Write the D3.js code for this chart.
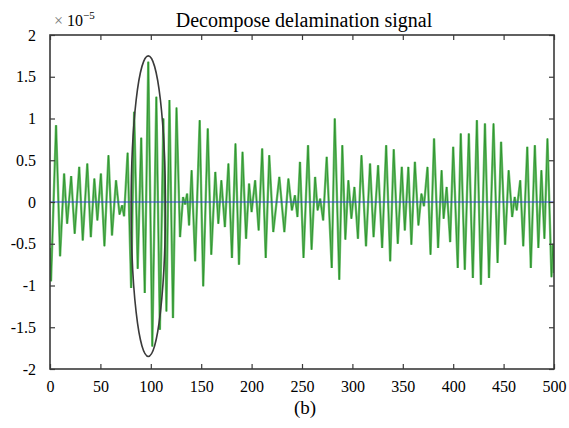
<!DOCTYPE html>
<html>
<head>
<meta charset="utf-8">
<script src="https://cdn.jsdelivr.net/npm/d3@7"></script>
<style>
  html, body { margin: 0; padding: 0; background: #fff; }
  svg { display: block; }
  text { font-family: "Liberation Serif", "Times New Roman", serif; fill: #000; }
</style>
</head>
<body>
<svg id="chart" width="569" height="428"></svg>
<script>
// Decomposed delamination signal: turning points (sample index, amplitude ×1e-5)
const turnAt = [
  0, 1, 6, 10, 14, 17, 21, 24.5, 29, 32.5, 37, 40.5, 44, 47, 50.5, 54, 58, 61.5, 65.5, 69,
  71.5, 73.5, 77, 80.5, 83.5, 87, 90.5, 94, 97.5, 101.5, 105.5, 109, 112.5, 115.5, 118.5, 122, 125.5, 129, 132, 134,
  136, 138, 140.5, 144, 148.5, 152, 156.5, 160, 164, 167, 170, 173.5, 177, 180.5, 184, 187.5, 191, 194.5, 197.5, 200,
  203.5, 207, 210.5, 214, 217.5, 221.5, 227.5, 232.5, 236.5, 240, 243, 245.5, 248, 251.5, 256, 259.5, 263, 265.5, 268, 271,
  274.5, 279.5, 282.5, 287, 290, 293, 296, 299, 302, 305.5, 309, 313.5, 317.5, 321, 325.5, 329.5, 333.5, 337.5, 341, 345,
  349, 352, 355.5, 358.5, 362, 365.5, 368.5, 371, 374.5, 377.5, 381, 385, 388.5, 390.5, 393.5, 397, 400, 404.5, 407.5, 411.5,
  415.5, 419.5, 423.5, 427.5, 431.5, 435.5, 440, 444, 447.5, 451.5, 455, 458.5, 461, 463, 466.5, 469.5, 473.5, 477, 481, 484.5,
  487.5, 490.5, 493.5, 497.5, 499, 500
];
const turnVal = [
  -0.55, -0.95, 0.92, -0.65, 0.34, -0.26, 0.31, -0.38, 0.42, -0.46, 0.46, -0.42, 0.28, -0.22, 0.34, -0.53, 0.56, -0.40, 0.26, -0.15,
  -0.04, -0.17, 0.59, -1.03, 1.08, -0.80, 0.77, -1.09, 1.68, -1.73, 1.26, -1.53, 1.00, -1.31, 1.22, -1.39, 1.13, -0.42, 0.06, -0.03,
  0.10, -0.28, 0.38, -0.71, 0.98, -1.01, 0.88, -0.63, 0.36, -0.26, 0.26, -0.30, 0.46, -0.67, 0.70, -0.75, 0.60, -0.44, 0.22, -0.12,
  0.26, -0.34, 0.64, -0.67, 0.56, -0.36, 0.30, -0.36, 0.28, -0.10, 0.08, -0.18, 0.48, -0.67, 0.68, -0.57, 0.30, -0.10, 0.04, -0.22,
  0.54, -0.79, 1.00, -0.93, 0.68, -0.45, 0.26, -0.20, 0.18, -0.44, 0.56, -0.53, 0.46, -0.42, 0.44, -0.55, 0.68, -0.71, 0.63, -0.50,
  0.42, -0.34, 0.42, -0.51, 0.48, -0.28, 0.10, -0.05, 0.42, -0.63, 0.76, -0.55, 0.38, -0.20, 0.18, -0.48, 0.66, -0.79, 0.82, -0.81,
  0.82, -0.91, 0.98, -0.99, 0.94, -0.91, 0.94, -0.73, 0.72, -0.51, 0.38, -0.18, 0.06, -0.10, 0.26, -0.53, 0.66, -0.79, 0.68, -0.55,
  0.38, -0.44, 0.76, -0.90, -0.50, -0.85
];

const xTicks = [0, 50, 100, 150, 200, 250, 300, 350, 400, 450, 500];
const yTicks = [-2, -1.5, -1, -0.5, 0, 0.5, 1, 1.5, 2];
const xDomain = [0, 500];
const yDomain = [-2, 2];

// Highlighted wave packet: centre (sample, amplitude) and half-axes
const packetCenter = [97.5, -0.05];
const packetRadius = [17, 1.8];

const titleText = "Decompose delamination signal";
const captionText = "(b)";

const svg = d3.select("#chart");
const m = { left: 50, right: 15, top: 35, bottom: 59 };
const W = 569, H = 428;

const x = d3.scaleLinear().domain(xDomain).range([m.left, W - m.right]);
const y = d3.scaleLinear().domain(yDomain).range([H - m.bottom, m.top]);

svg.append("defs").append("clipPath").attr("id", "plotClip")
  .append("rect")
  .attr("x", x(0)).attr("y", y(2))
  .attr("width", x(500) - x(0)).attr("height", y(-2) - y(2));

const plot = svg.append("g").attr("clip-path", "url(#plotClip)");

const pts = turnAt.map((t, i) => [t, turnVal[i]]);
const line = d3.line().x(d => x(d[0])).y(d => y(d[1]));

// soft outer stroke plus darker core for the signal trace
plot.append("path")
  .datum(pts)
  .attr("d", line)
  .attr("fill", "none")
  .attr("stroke", "#74c274")
  .attr("stroke-width", 2.4)
  .attr("stroke-linejoin", "bevel");

plot.append("path")
  .datum(pts)
  .attr("d", line)
  .attr("fill", "none")
  .attr("stroke", "#2a922a")
  .attr("stroke-width", 0.9)
  .attr("stroke-linejoin", "bevel");

// zero reference line
plot.append("path")
  .datum([[0, 0], [500, 0]])
  .attr("d", line)
  .attr("fill", "none")
  .attr("stroke", "#3040d8")
  .attr("stroke-width", 1.1);

// ellipse marking the wave packet
svg.append("ellipse")
  .attr("cx", x(packetCenter[0]))
  .attr("cy", y(packetCenter[1]))
  .attr("rx", x(packetRadius[0]) - x(0))
  .attr("ry", y(0) - y(packetRadius[1]))
  .attr("fill", "none")
  .attr("stroke", "#3a3a3a")
  .attr("stroke-width", 1.6);

// axes with inward ticks on all four sides
const tickLen = 5;
const axisColor = "#3a3a3a";
function styleAxis(g) {
  g.select(".domain").remove();
  g.selectAll(".tick line").attr("stroke", axisColor).attr("stroke-width", 1.2);
  g.selectAll("text").attr("font-size", 16).attr("font-family", "Liberation Serif, serif");
}

svg.append("g")
  .attr("transform", `translate(0,${y(-2)})`)
  .call(d3.axisBottom(x).tickValues(xTicks).tickSize(-tickLen).tickPadding(12).tickFormat(d3.format("d")))
  .call(styleAxis);

svg.append("g")
  .attr("transform", `translate(0,${y(2)})`)
  .call(d3.axisTop(x).tickValues(xTicks).tickSize(-tickLen).tickFormat(""))
  .call(styleAxis);

const yFmt = d => (d < 0 ? "-" : "") + d3.format("~g")(Math.abs(d));
svg.append("g")
  .attr("transform", `translate(${x(0)},0)`)
  .call(d3.axisLeft(y).tickValues(yTicks).tickSize(-tickLen).tickPadding(14).tickFormat(yFmt))
  .call(styleAxis);

svg.append("g")
  .attr("transform", `translate(${x(500)},0)`)
  .call(d3.axisRight(y).tickValues(yTicks).tickSize(-tickLen).tickFormat(""))
  .call(styleAxis);

// frame
svg.append("rect")
  .attr("x", x(0)).attr("y", y(2))
  .attr("width", x(500) - x(0)).attr("height", y(-2) - y(2))
  .attr("fill", "none")
  .attr("stroke", axisColor)
  .attr("stroke-width", 1.6);

// exponent label
const expo = svg.append("text")
  .attr("x", x(0) + 4).attr("y", 26)
  .attr("font-size", 16);
expo.append("tspan").attr("fill", "#777").text("× ");
expo.append("tspan").text("10");
expo.append("tspan").attr("font-size", 11).attr("dy", -7).text("−5");

// title
svg.append("text")
  .attr("x", (x(0) + x(500)) / 2 + 2).attr("y", 27)
  .attr("text-anchor", "middle")
  .attr("font-size", 20)
  .text(titleText);

// caption
svg.append("text")
  .attr("x", (x(0) + x(500)) / 2 + 3).attr("y", 414)
  .attr("text-anchor", "middle")
  .attr("font-size", 19)
  .text(captionText);
</script>
</body>
</html>
